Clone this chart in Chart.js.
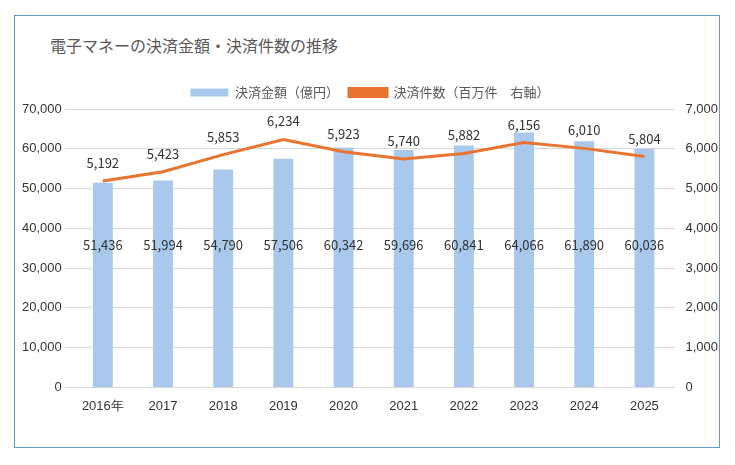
<!DOCTYPE html>
<html><head><meta charset="utf-8">
<script src="https://cdn.jsdelivr.net/npm/chart.js@4"></script>
<style>
body{margin:0;background:#fff;font-family:"Noto Sans CJK JP",sans-serif;}
#box{position:absolute;left:14px;top:15px;width:706px;height:433px;border:1px solid #5b9bd5;box-sizing:border-box;}
#wrap{position:absolute;left:15px;top:16px;width:706px;height:431px;}
#title{position:absolute;left:50px;top:33px;font-size:16px;color:#595959;}
</style></head><body>
<div id="box"></div>
<div id="title">電子マネーの決済金額・決済件数の推移</div>
<div id="wrap"><canvas id="c"></canvas></div>
<script>
const categories=["2016年","2017","2018","2019","2020","2021","2022","2023","2024","2025"];
const amounts=[51436,51994,54790,57506,60342,59696,60841,64066,61890,60036];
const counts=[5192,5423,5853,6234,5923,5740,5882,6156,6010,5804];
const fmt=v=>v.toLocaleString('en-US');
const labelPlugin={id:'lbl',afterDatasetsDraw(ch){
 const ctx=ch.ctx;ctx.save();ctx.font='13px "Noto Sans CJK JP", sans-serif';ctx.fillStyle='#333';ctx.textAlign='center';ctx.textBaseline='middle';
 const y0=ch.scales.y;
 ch.getDatasetMeta(0).data.forEach((b,i)=>{ctx.fillText(fmt(amounts[i]),b.x,y0.getPixelForValue(35700));});
 ch.getDatasetMeta(1).data.forEach((p,i)=>{ctx.fillText(fmt(counts[i]),p.x,p.y-18);});
 ctx.restore();}};
new Chart(document.getElementById('c'),{
 data:{labels:categories,datasets:[
  {type:'bar',label:'決済金額（億円）',data:amounts,backgroundColor:'#a8c9eb',yAxisID:'y',barPercentage:0.33,categoryPercentage:1,order:2},
  {type:'line',label:'決済件数（百万件　右軸）',data:counts,borderColor:'#e8742f',backgroundColor:'#e8742f',borderWidth:3,pointRadius:0,yAxisID:'y1',order:1}
 ]},
 options:{responsive:true,maintainAspectRatio:false,animation:false,
  layout:{padding:{left:4,right:0,top:60,bottom:30}},
  plugins:{
   legend:{labels:{color:'#595959',font:{size:13,family:'"Noto Sans CJK JP"'},boxWidth:38,boxHeight:8,useBorderRadius:false,sort:(a,b)=>a.datasetIndex-b.datasetIndex}},
   tooltip:{enabled:false}},
  scales:{
   x:{grid:{display:false},border:{color:'#d9d9d9'},ticks:{color:'#333',font:{size:13}}},
   y:{min:0,max:70000,ticks:{stepSize:10000,color:'#333',font:{size:13},callback:v=>fmt(v)},grid:{color:'#d9d9d9'},border:{display:false}},
   y1:{position:'right',min:0,max:7000,ticks:{stepSize:1000,color:'#333',font:{size:13},callback:v=>fmt(v)},grid:{display:false},border:{display:false}}
  }},
 plugins:[labelPlugin]});
</script></body></html>
